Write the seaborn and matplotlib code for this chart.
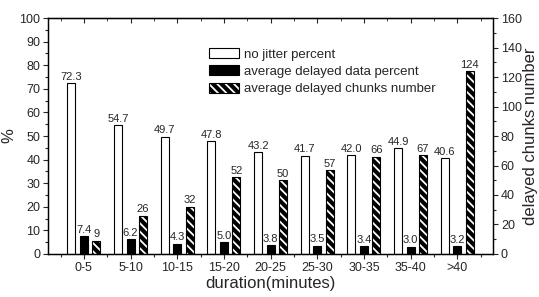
import numpy as np
import pandas as pd
import matplotlib
matplotlib.use("Agg")
import matplotlib.pyplot as plt
from matplotlib.patches import Patch
import seaborn as sns

# data
durations = ["0-5", "5-10", "10-15", "15-20", "20-25", "25-30", "30-35", "35-40", ">40"]
no_jitter = [72.3, 54.7, 49.7, 47.8, 43.2, 41.7, 42.0, 44.9, 40.6]
delayed_data = [7.4, 6.2, 4.3, 5.0, 3.8, 3.5, 3.4, 3.0, 3.2]
delayed_chunks = [9, 26, 32, 52, 50, 57, 66, 67, 124]

names = ["no jitter percent", "average delayed data percent", "average delayed chunks number"]

sns.set_style("ticks")
plt.rcParams["font.family"] = ["Liberation Sans", "DejaVu Sans"]
plt.rcParams["hatch.linewidth"] = 1.3

pct = pd.DataFrame({
    "duration": durations * 2,
    "value": no_jitter + delayed_data,
    "series": [names[0]] * 9 + [names[1]] * 9,
})
chunks = pd.DataFrame({"duration": durations, "value": delayed_chunks, "series": names[2]})

pal = {names[0]: "white", names[1]: "black", names[2]: "black"}
hatch = "\\\\\\\\"

fig, ax = plt.subplots(figsize=(5.39, 2.97), dpi=100)
fig.subplots_adjust(left=0.089, right=0.915, top=0.939, bottom=0.145)
ax2 = ax.twinx()

common = dict(x="duration", y="value", hue="series", hue_order=names, order=durations,
              palette=pal, width=0.8, gap=0.36, dodge=True, errorbar=None, legend=False)

sns.barplot(data=pct, ax=ax, edgecolor="black", linewidth=0.8, **common)
sns.barplot(data=chunks, ax=ax2, edgecolor="white", linewidth=0, hatch=hatch, **common)
chunk_bars = ax2.containers[-1]
sns.barplot(data=chunks, ax=ax2, fill=False, linewidth=0.8, **common)

ax.bar_label(ax.containers[0], fmt="%.1f", fontsize=8, padding=1)
ax.bar_label(ax.containers[1], fmt="%.1f", fontsize=8, padding=1)
ax2.bar_label(chunk_bars, fmt="%d", fontsize=8, padding=1)

ax.set_xlim(-0.77, 8.77)
ax.set_ylim(0, 100)
ax2.set_ylim(0, 160)
ax.set_yticks(np.arange(0, 101, 10))
ax.set_yticks(np.arange(0, 101, 5), minor=True)
ax2.set_yticks(np.arange(0, 161, 20))
ax2.set_yticks(np.arange(0, 161, 10), minor=True)
ax.set_xticks(range(len(durations)))
ax.set_xticklabels(durations)
ax.set_xticks(np.arange(-0.5, len(durations), 1), minor=True)

for a in (ax, ax2):
    a.tick_params(which="major", length=3.5, width=0.8, labelsize=9, direction="out", pad=2)
    a.tick_params(which="minor", length=2, width=0.8, direction="out")
    for s in a.spines.values():
        s.set_visible(True)
        s.set_linewidth(0.9)
        s.set_color("black")

top = ax.secondary_xaxis("top")
top.set_xticks(range(len(durations)))
top.set_xticks(np.arange(-0.5, len(durations), 1), minor=True)
top.tick_params(which="major", direction="in", length=3.5, labeltop=False)
top.tick_params(which="minor", direction="in", length=2)

ax.set_xlabel("duration(minutes)", fontsize=12, labelpad=2)
ax.set_ylabel("%", fontsize=12, labelpad=2)
ax2.set_ylabel("delayed chunks number", fontsize=12, labelpad=1)

handles = [
    Patch(facecolor="white", edgecolor="black", linewidth=0.8),
    Patch(facecolor="black", edgecolor="black", linewidth=0.8),
    (Patch(facecolor="black", edgecolor="white", linewidth=0, hatch=hatch),
     Patch(fill=False, edgecolor="black", linewidth=0.8)),
]
ax.legend(handles, names, loc="upper left", bbox_to_anchor=(0.35, 0.895), frameon=False,
          fontsize=9.5, handlelength=2.3, handleheight=0.8, labelspacing=0.35,
          handletextpad=0.35, borderaxespad=0)

fig.savefig("out.png", dpi=100)
